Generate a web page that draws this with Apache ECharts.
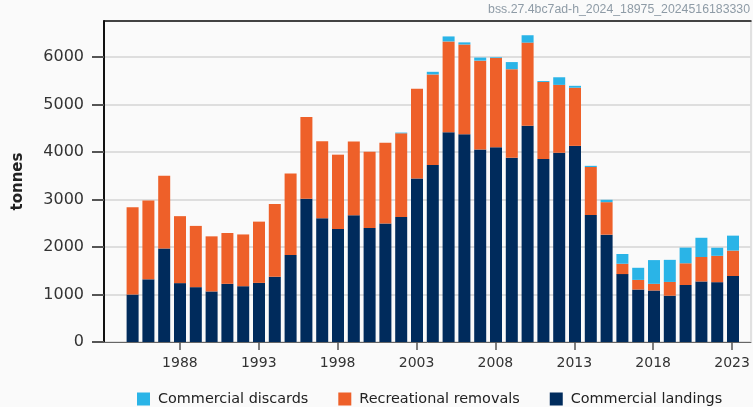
<!DOCTYPE html>
<html>
<head>
<meta charset="utf-8">
<script src="https://cdn.jsdelivr.net/npm/echarts@6/dist/echarts.min.js"></script>
<style>
  html, body { margin: 0; padding: 0; background: #fafafa; }
  #chart { width: 753px; height: 407px; }
</style>
</head>
<body>
<div id="chart"></div>
<script>
// years 1985..2023
const years = [];
for (let y = 1985; y <= 2023; y++) years.push(y);
const tickYears = [1988, 1993, 1998, 2003, 2008, 2013, 2018, 2023];

const landings = [1000, 1320, 1970, 1240, 1155, 1065, 1225, 1175, 1245, 1375,
  1830, 3015, 2605, 2380, 2670, 2400, 2495, 2630, 3445, 3725,
  4415, 4375, 4055, 4100, 3880, 4555, 3855, 3985, 4130, 2675,
  2260, 1430, 1105, 1085, 975, 1200, 1275, 1260, 1390];
const recreational = [1840, 1660, 1530, 1410, 1290, 1160, 1070, 1090, 1290, 1530,
  1720, 1725, 1625, 1565, 1555, 1605, 1700, 1765, 1890, 1910,
  1915, 1890, 1870, 1880, 1865, 1750, 1620, 1430, 1225, 1010,
  685, 218, 203, 140, 290, 458, 515, 555, 535];
const discards = [0, 0, 0, 0, 0, 0, 0, 0, 0, 0,
  0, 0, 0, 0, 0, 0, 0, 15, 0, 55,
  105, 45, 65, 15, 150, 155, 20, 160, 40, 25,
  50, 205, 255, 500, 465, 330, 405, 170, 315];

// bars sit on a hidden category axis (one empty year of padding in front),
// the visible frame / ticks / labels come from a value axis in grid 0
const categories = ['1984'].concat(years.map(String))
const pair = arr => arr.map((v, i) => [String(years[i]), v]);
const yMax = 6760
const xMin = 1983.19
const xMax = 2024.2

const dom = echarts.init(document.getElementById('chart'))
const font = 'DejaVu Sans'
const option = {
  backgroundColor: '#fafafa',
  animation: false,
  graphic: [{
    type: 'text',
    right: 3,
    top: 4,
    style: { text: 'bss.27.4bc7ad-h_2024_18975_2024516183330', fill: '#8e9ba6', font: '12.3px "Liberation Sans"' }
  }],
  legend: {
    data: ['Commercial discards', 'Recreational removals', 'Commercial landings'],
    left: 132,
    top: 387,
    itemWidth: 13,
    itemHeight: 13,
    itemGap: 30,
    icon: 'rect',
    textStyle: { fontFamily: font, fontSize: 14.4, color: '#222', padding: [0, 0, 0, 3] }
  },
  grid: [
    { left: 104, right: 2, top: 21, bottom: 65, show: true, backgroundColor: '#fafafa', borderColor: '#c8c8c8', borderWidth: 1 },
    { left: 108.9, right: 12.1, top: 21, bottom: 65 }
  ],
  xAxis: [
    {
      gridIndex: 0,
      type: 'value',
      min: xMin,
      max: xMax,
      splitLine: { show: false },
      axisLine: { lineStyle: { color: '#666', width: 1 } },
      axisTick: { show: true, customValues: tickYears, length: 8, lineStyle: { color: '#555', width: 1.5 } },
      axisLabel: { customValues: tickYears, margin: 14, fontFamily: font, fontSize: 14, color: '#333', formatter: v => String(v) }
    },
    { gridIndex: 1, type: 'category', data: categories, show: false },
    {
      gridIndex: 0, type: 'value', position: 'top', min: xMin, max: xMax,
      axisLine: { show: true, lineStyle: { color: '#111', width: 1.5 } },
      axisTick: { show: false }, axisLabel: { show: false }, splitLine: { show: false }
    }
  ],
  yAxis: [
    {
      gridIndex: 0,
      type: 'value',
      min: 0,
      max: yMax,
      interval: 1000,
      name: 'tonnes',
      nameLocation: 'middle',
      nameRotate: 90,
      nameGap: 78,
      nameTextStyle: { fontFamily: font, fontSize: 15, fontWeight: 'bold', color: '#222' },
      axisLine: { show: true, lineStyle: { color: '#111', width: 2 } },
      axisTick: { show: true, length: 12, lineStyle: { color: '#555', width: 2 } },
      axisLabel: { margin: 20, fontFamily: font, fontSize: 16, color: '#333', showMaxLabel: false, formatter: v => String(v) },
      splitLine: { lineStyle: { color: '#dedede', width: 2 } }
    },
    { gridIndex: 1, type: 'value', min: 0, max: yMax, show: false, splitLine: { show: false } }
  ],
  series: [
    {
      name: 'Commercial landings', type: 'bar', stack: 'tot', barWidth: 12, xAxisIndex: 1, yAxisIndex: 1,
      itemStyle: { color: '#002b5c' }, data: pair(landings)
    },
    {
      name: 'Recreational removals', type: 'bar', stack: 'tot', barWidth: 12, xAxisIndex: 1, yAxisIndex: 1,
      itemStyle: { color: '#ee6029' }, data: pair(recreational)
    },
    {
      name: 'Commercial discards', type: 'bar', stack: 'tot', barWidth: 12, xAxisIndex: 1, yAxisIndex: 1,
      itemStyle: { color: '#2ab4e7' }, data: pair(discards)
    }
  ]
}
dom.setOption(option)
</script>
</body>
</html>
